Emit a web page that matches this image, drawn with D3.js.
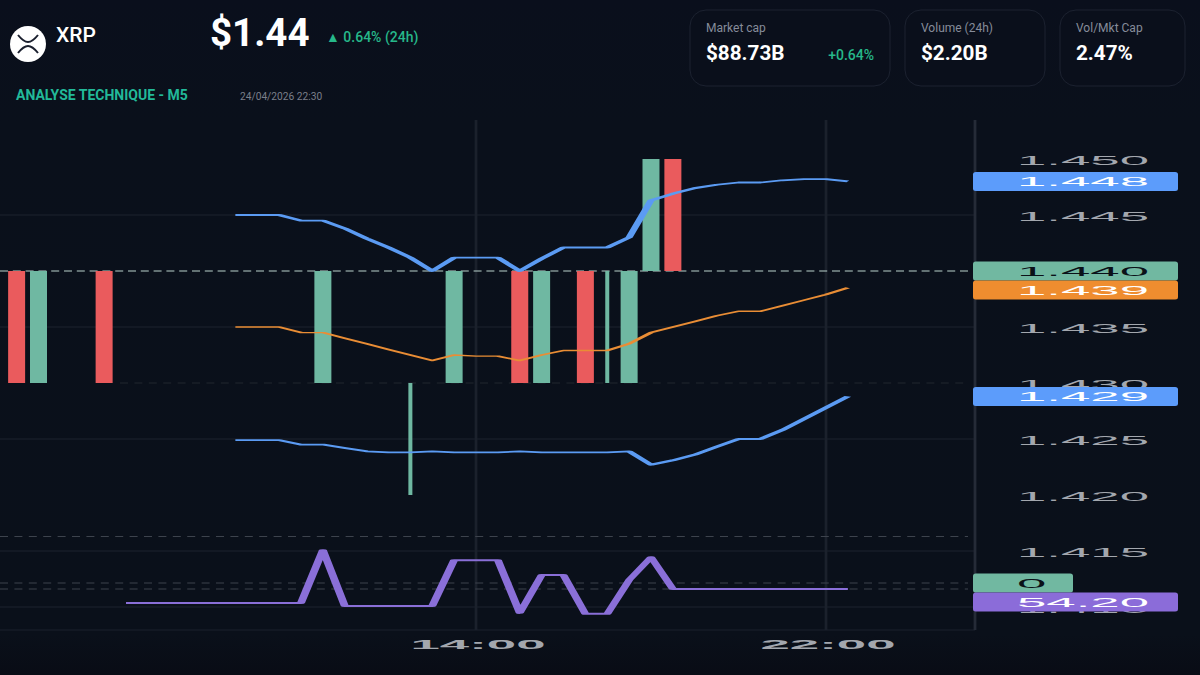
<!DOCTYPE html>
<html>
<head>
<meta charset="utf-8">
<script src="https://cdn.jsdelivr.net/npm/d3@7"></script>
<style>
  html, body { margin: 0; padding: 0; background: #0a0f1a; }
  svg { display: block; font-family: Roboto, sans-serif; }
  .axis text { font-family: "Liberation Sans", Arial, sans-serif; }
</style>
</head>
<body>
<svg id="chart" width="1200" height="675"></svg>
<script>
// bands, every 30 min from 08:30 to 22:30
var upperBand = [1.4450,1.4450,1.4450,1.4445,1.4445,1.4438,1.4429,1.4421,1.4412,1.4400,1.4412,1.4412,1.4412,1.4400,1.4411,1.4421,1.4421,1.4421,1.4430,1.4463,1.4469,1.4474,1.4477,1.4479,1.4479,1.4481,1.4482,1.4482,1.4480];
var middleBand = [1.4350,1.4350,1.4350,1.4345,1.4345,1.4340,1.4335,1.4330,1.4325,1.4320,1.4325,1.4324,1.4324,1.4320,1.4325,1.4329,1.4329,1.4329,1.4335,1.4345,1.4350,1.4355,1.4360,1.4364,1.4364,1.4369,1.4374,1.4379,1.4385];
var lowerBand = [1.4249,1.4249,1.4249,1.4245,1.4245,1.4242,1.4239,1.4238,1.4238,1.4239,1.4238,1.4238,1.4238,1.4239,1.4238,1.4238,1.4238,1.4238,1.4239,1.4227,1.4231,1.4236,1.4243,1.4250,1.4250,1.4258,1.4268,1.4278,1.4288];
// rsi, every 30 min from 06:00 to 22:30
var rsiValues = [50,50,50,50,50,50,50,50,50,65.9,49.1,49.1,49.1,49.1,49.1,62.9,62.9,62.9,47,58.4,58.4,46.7,46.7,56.9,63.8,54.2,54.2,54.2,54.2,54.2,54.2,54.2,54.2,54.2];

var candleTimes = ["03:30","04:00","05:30","10:30","12:30","13:30","15:00","15:30","16:30","17:00","17:30","18:00","18:30"];
var candleOpen  = [1.44,1.43,1.44,1.43,1.43,1.43,1.44,1.43,1.44,1.43,1.43,1.44,1.45];
var candleClose = [1.43,1.44,1.43,1.44,1.43,1.44,1.43,1.44,1.43,1.43,1.44,1.45,1.44];
var candleLow   = [1.43,1.43,1.43,1.43,1.42,1.43,1.43,1.43,1.43,1.43,1.43,1.44,1.44];
var candleHigh  = [1.44,1.44,1.44,1.44,1.43,1.44,1.44,1.44,1.44,1.44,1.44,1.45,1.45];

var priceTicks = [1.450,1.445,1.440,1.435,1.430,1.425,1.420,1.415,1.410];
var gridLevels = [1.445,1.435,1.425,1.415,1.410];
var timeTicks = ["14:00","22:00"];
var rsiLevels = [70,56,54.2];

var tagValues = [1.448,1.440,1.4385,1.4288];
var tagTexts  = ["1.448","1.440","1.439","1.429"];
var tagColors = ["#5c9cfb","#71b8a1","#ef8d2f","#5c9cfb"];

var cardLabels = ["Market cap","Volume (24h)","Vol/Mkt Cap"];
var cardValues = ["$88.73B","$2.20B","2.47%"];

var green = "#6fb8a2", red = "#ea5b5d", up = "#26b88a";

var svg = d3.select("#chart");
var defs = svg.append("defs");
var bg = defs.append("linearGradient").attr("id", "bg").attr("x1", 0).attr("x2", 0).attr("y1", 0).attr("y2", 1);
bg.append("stop").attr("offset", "0%").attr("stop-color", "#0a0f1c");
bg.append("stop").attr("offset", "18%").attr("stop-color", "#0a101b");
bg.append("stop").attr("offset", "94%").attr("stop-color", "#0a101a");
bg.append("stop").attr("offset", "100%").attr("stop-color", "#090c15");
svg.append("rect").attr("width", 1200).attr("height", 675).attr("fill", "url(#bg)");

// the chart screenshot is pulled sideways, so everything in it goes through this
var stretch = 4;
var plot = svg.append("g").attr("transform", "scale(" + stretch + ",1)");

var parseTime = d3.timeParse("%H:%M");
var x = d3.scaleTime()
    .domain([parseTime("14:00"), parseTime("22:00")])
    .range([476 / stretch, 826 / stretch]);
var y = d3.scaleLinear().domain([1.450, 1.410]).range([159, 607]);
var yRsi = d3.scaleLinear().domain([54.2, 70]).range([589, 536.6]);

var bandTimes = d3.timeMinute.every(30).range(parseTime("08:30"), parseTime("22:31"));
var rsiTimes = d3.timeMinute.every(30).range(parseTime("06:00"), parseTime("22:31"));
var xMax = 975 / stretch;

// grid
plot.selectAll(".grid").data(gridLevels).enter().append("line")
    .attr("x1", 0).attr("x2", xMax)
    .attr("y1", function(d) { return y(d); }).attr("y2", function(d) { return y(d); })
    .attr("stroke", "#1d232e").attr("stroke-width", 1);

plot.selectAll(".vgrid").data(timeTicks).enter().append("line")
    .attr("x1", function(d) { return x(parseTime(d)); })
    .attr("x2", function(d) { return x(parseTime(d)); })
    .attr("y1", 120).attr("y2", 630)
    .attr("stroke", "#1b212c").attr("stroke-width", 0.7);

plot.append("line").attr("x1", 0).attr("x2", xMax).attr("y1", 630).attr("y2", 630)
    .attr("stroke", "#1b212c");
plot.append("line").attr("x1", xMax).attr("x2", xMax).attr("y1", 120).attr("y2", 630)
    .attr("stroke", "#252b37").attr("stroke-width", 0.7);

// dashed levels
plot.selectAll(".rsiLevel").data(rsiLevels).enter().append("line")
    .attr("x1", 0).attr("x2", 968 / stretch)
    .attr("y1", function(d) { return yRsi(d); }).attr("y2", function(d) { return yRsi(d); })
    .attr("stroke", "#3d434d").attr("stroke-dasharray", "2,1.6");

plot.append("line").attr("x1", 120 / stretch).attr("x2", 968 / stretch)
    .attr("y1", y(1.430)).attr("y2", y(1.430))
    .attr("stroke", "#20262f").attr("stroke-dasharray", "2,1.6");

plot.append("line").attr("x1", 0).attr("x2", 968 / stretch)
    .attr("y1", y(1.440)).attr("y2", y(1.440))
    .attr("stroke", "#b9d2cb").attr("stroke-dasharray", "2,1.2");

// candles
var candleW = 17 / stretch;
candleTimes.forEach(function(t, i) {
  var cx = x(parseTime(t));
  var color = candleClose[i] >= candleOpen[i] ? green : red;
  plot.append("line").attr("x1", cx).attr("x2", cx)
      .attr("y1", y(candleHigh[i])).attr("y2", y(candleLow[i]))
      .attr("stroke", green).attr("stroke-width", 1);
  plot.append("rect")
      .attr("x", cx - candleW / 2)
      .attr("y", y(Math.max(candleOpen[i], candleClose[i])))
      .attr("width", candleW)
      .attr("height", Math.abs(y(candleOpen[i]) - y(candleClose[i])))
      .attr("fill", color);
});

// series
function drawLine(values, times, yScale, color, w) {
  var line = d3.line()
      .x(function(d, i) { return x(times[i]); })
      .y(function(d) { return yScale(d); });
  plot.append("path").datum(values)
      .attr("d", line)
      .attr("fill", "none")
      .attr("stroke", color)
      .attr("stroke-width", w)
      .attr("stroke-linejoin", "round");
}
drawLine(upperBand, bandTimes, y, "#5b9bf3", 1.8);
drawLine(middleBand, bandTimes, y, "#e98d35", 1.4);
drawLine(lowerBand, bandTimes, y, "#5b9bf3", 1.8);
drawLine(rsiValues, rsiTimes, yRsi, "#8a6fd8", 2);

// axes
plot.append("g").attr("class", "axis")
    .attr("transform", "translate(" + 1017 / stretch + ",0)")
    .call(d3.axisRight(y).tickValues(priceTicks).tickSize(0).tickPadding(0).tickFormat(d3.format(".3f")))
    .call(function(g) { g.select(".domain").remove(); })
    .selectAll("text").attr("font-size", 13.2).attr("dy", "0.38em").attr("fill", "#a3a7ae");

plot.append("g").attr("class", "axis")
    .attr("transform", "translate(0,640)")
    .call(d3.axisBottom(x).tickValues(timeTicks.map(parseTime)).tickSize(0).tickPadding(0).tickFormat(d3.timeFormat("%H:%M")))
    .call(function(g) { g.select(".domain").remove(); })
    .selectAll("text").attr("font-size", 13.2).attr("font-weight", "bold").attr("fill", "#a3a7ae");

// price tags, pushed down when they would overlap
var tags = tagValues.map(function(v, i) {
  return { pos: y(v), text: tagTexts[i], color: tagColors[i], ink: "#ffffff", right: 1178 };
});
tags[1].ink = "#0b1118";
tags.push({ pos: yRsi(rsiLevels[1]), text: "0", color: "#71b8a1", ink: "#0b1118", right: 1073 });
tags.push({ pos: yRsi(rsiValues[rsiValues.length - 1]), text: d3.format(".2f")(rsiValues[rsiValues.length - 1]), color: "#8b6cd9", ink: "#ffffff", right: 1178 });

var tagH = 19, last = -100;
tags.forEach(function(t) {
  var c = Math.max(t.pos, last + tagH);
  last = c;
  plot.append("rect")
      .attr("x", 973 / stretch).attr("y", c - tagH / 2)
      .attr("width", (t.right - 973) / stretch).attr("height", tagH)
      .attr("rx", 0.7).attr("ry", 2.5)
      .attr("fill", t.color);
  plot.append("text").attr("class", "axis")
      .attr("x", 1017 / stretch).attr("y", c)
      .attr("dy", "0.38em")
      .attr("font-family", "Liberation Sans, Arial, sans-serif")
      .attr("font-size", 13.2)
      .attr("fill", t.ink)
      .text(t.text);
});

// header
svg.append("circle").attr("cx", 28).attr("cy", 44).attr("r", 18).attr("fill", "#ffffff");
svg.append("path")
    .attr("d", "M18 35C22 40 25 42 28 42C31 42 34 40 38 35M18 53C22 48 25 46 28 46C31 46 34 48 38 53")
    .attr("fill", "none").attr("stroke", "#1a1f2e").attr("stroke-width", 2);

function label(px, py, txt, size, weight, color, anchor) {
  return svg.append("text").attr("x", px).attr("y", py)
      .attr("font-size", size).attr("font-weight", weight).attr("fill", color)
      .attr("text-anchor", anchor || "start").text(txt);
}
label(56, 42, "XRP", 21, 500, "#ffffff");
label(210, 46, "$1.44", 38.5, 700, "#ffffff");
label(326, 42, "▲ 0.64% (24h)", 14, 500, up);
label(16, 100, "ANALYSE TECHNIQUE - M5", 14, 700, "#22b999");
label(240, 100, "24/04/2026 22:30", 10.2, 400, "#7a7f8a");

var cardX = [690, 905, 1060], cardW = [200, 140, 125];
cardLabels.forEach(function(c, i) {
  svg.append("rect").attr("x", cardX[i]).attr("y", 10)
      .attr("width", cardW[i]).attr("height", 76).attr("rx", 16)
      .attr("fill", "#0a0f1b").attr("stroke", "#1c2230");
  label(cardX[i] + 16, 32, c, 12, 400, "#868c9a");
  label(cardX[i] + 16, 60, cardValues[i], 20.7, 700, "#ffffff");
});
label(874, 60, "+0.64%", 14, 500, up, "end");
</script>
</body>
</html>
